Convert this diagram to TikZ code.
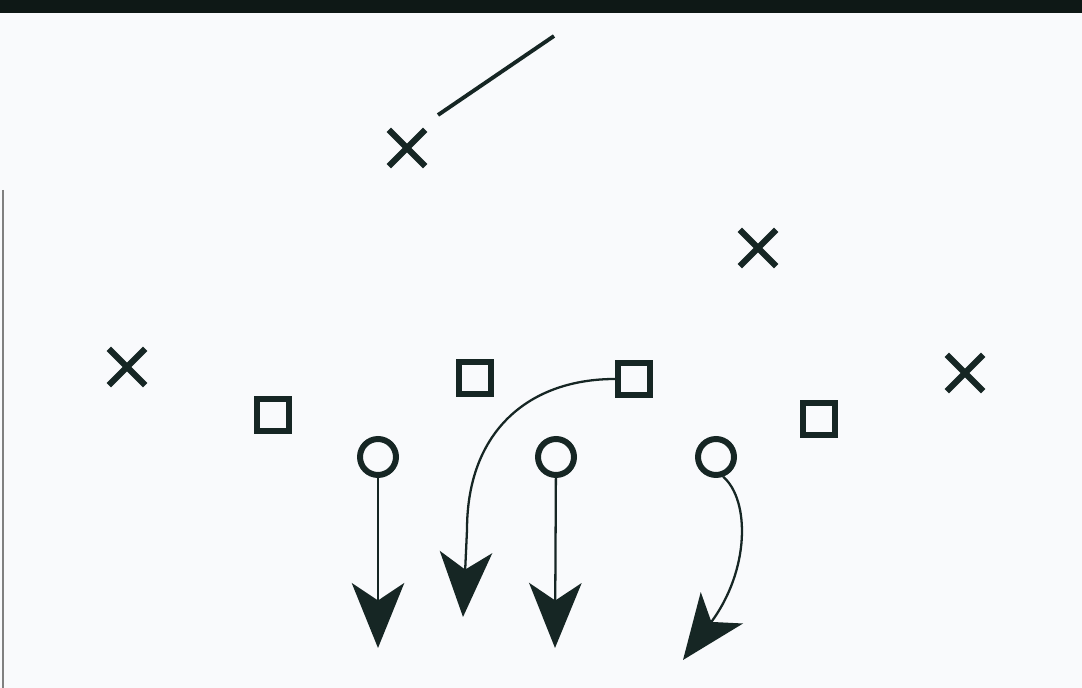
\documentclass[tikz,border=0pt]{standalone}
\usepackage[dvipsnames,svgnames,x11names]{xcolor}
\usepackage{tikz}
\usetikzlibrary{shapes, shapes.misc, arrows.meta, positioning, backgrounds}
\definecolor{inkC}{RGB}{22,38,36}
\definecolor{bandC}{RGB}{14,24,22}
\definecolor{paperC}{RGB}{249,250,252}
\tikzset{
  crossP/.style={cross out, draw=inkC, line width=3.6pt,
                 inner sep=0pt, minimum size=0.6cm},
  squareP/.style={rectangle, draw=inkC, line width=3.4pt,
                  inner sep=0pt, minimum size=0.64cm},
  circleP/.style={circle, draw=inkC, line width=3.4pt,
                  inner sep=0pt, minimum size=0.72cm},
  run/.style={draw=inkC, line width=1.3pt,
              -{Stealth[length=13mm, width=10.5mm, inset=3.5mm]}},
  mark line/.style={draw=inkC, line width=2.2pt},
}

\begin{document}
\begin{tikzpicture}[x=0.02cm, y=-0.02cm]
    %% Page
    \fill[paperC] (0,0) rectangle (1082,688);
    \useasboundingbox (0,0) rectangle (1082,688);
    \fill[bandC] (0,0) rectangle (1082,13);
    \draw[gray, line width=1.5pt] (3,190) -- (3,688);
    %% Crosses
    \foreach \n/\x/\y in {x1/407/148, x2/758/248, x3/965/373, x4/127/367}{
      \node[crossP] (\n) at (\x,\y) {};
    }
    %% Squares
    \foreach \n/\x/\y in {s1/273/415, s2/475/378, s3/634/379, s4/819/419}{
      \node[squareP] (\n) at (\x,\y) {};
    }
    %% Circles
    \foreach \n/\x/\y in {o1/378/457, o2/556/457, o3/716/457}{
      \node[circleP] (\n) at (\x,\y) {};
    }
    %% Arrow ends
    \coordinate (t1) at (378,648);
    \coordinate (t2) at (463,617);
    \coordinate (t3) at (555,648);
    \coordinate (t4) at (683,660);
    \coordinate (l1) at (438,115);
    \coordinate (l2) at (554,36);
    %% Routes
    \draw[run] (o1) -- (t1);
    \draw[run] (o2) -- (t3);
    \draw[run] (s3.west) .. controls (530,379) and (467,430) .. (467,530) -- (t2);
    \draw[run] (o3.-70) .. controls (750,500) and (750,570) .. (t4);
    \draw[mark line] (l1) -- (l2);
\end{tikzpicture}
\end{document}
